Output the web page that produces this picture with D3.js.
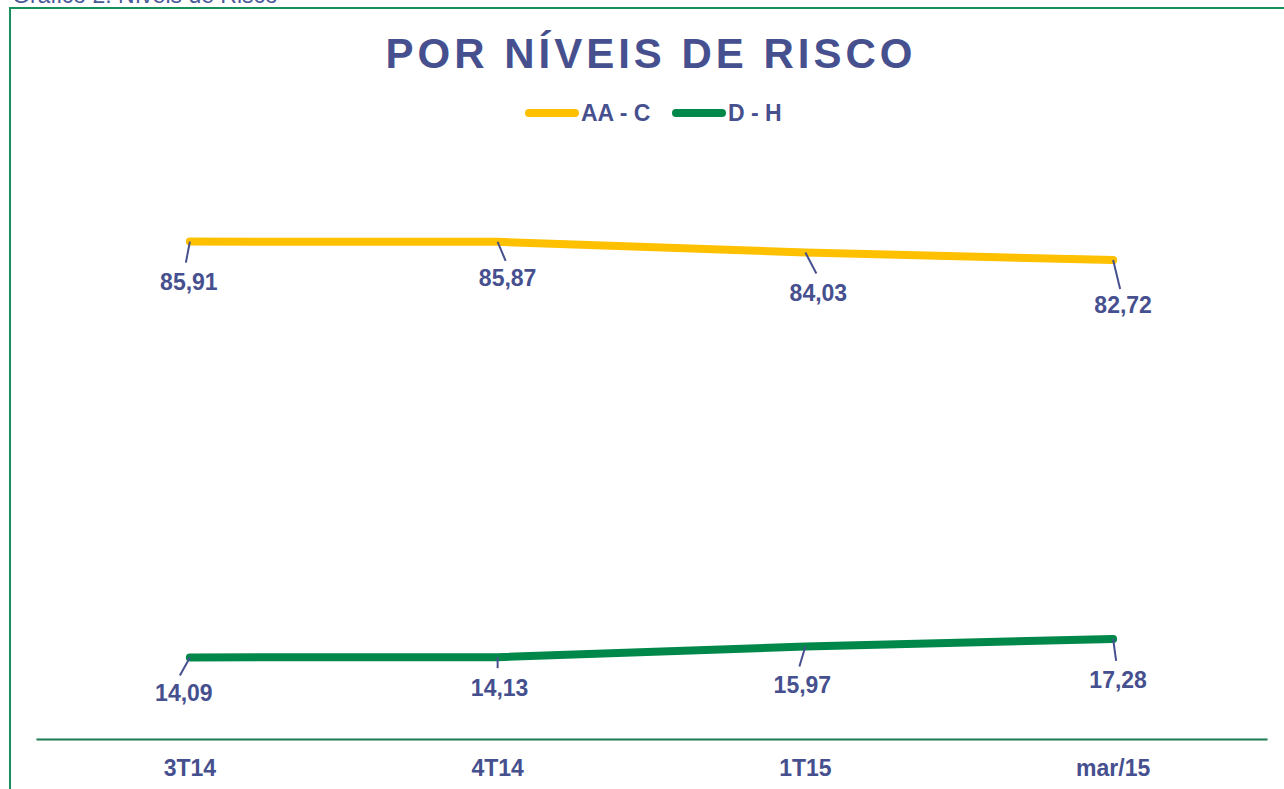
<!DOCTYPE html>
<html>
<head>
<meta charset="utf-8">
<script src="https://cdn.jsdelivr.net/npm/d3@7"></script>
<style>
  body { margin: 0; background: #fff; }
  text { font-family: "Liberation Sans", Arial, sans-serif; }
</style>
</head>
<body>
<svg id="chart" width="1284" height="789"></svg>
<script>
// categories and series
const categories = ["3T14", "4T14", "1T15", "mar/15"];
const seriesNames = ["AA - C", "D - H"];
const aaC = [85.91, 85.87, 84.03, 82.72];
const dH = [14.09, 14.13, 15.97, 17.28];
const seriesColors = ["#FFC000", "#00884A"];

const textColor = "#46508F";

// label leader offsets (leader end lx/ly, label centre tx / baseline ty) per point
const aaCLabelPos = [
  { lx: -4, ly: 21, tx: -1, ty: 48 },
  { lx: 8, ly: 19, tx: 10, ty: 44 },
  { lx: 11, ly: 21, tx: 13, ty: 49 },
  { lx: 7, ly: 29, tx: 10, ty: 53 }
];
const dHLabelPos = [
  { lx: -10, ly: 18, tx: -6, ty: 44 },
  { lx: 0, ly: 11, tx: 2, ty: 39 },
  { lx: -6, ly: 20, tx: -3, ty: 46 },
  { lx: 3, ly: 22, tx: 5, ty: 49 }
];

function drawChart() {
  const svg = d3.select("#chart");

  // outer frame
  svg.append("rect")
    .attr("x", 10).attr("y", 8)
    .attr("width", 1300).attr("height", 800)
    .attr("fill", "none")
    .attr("stroke", "#16915e")
    .attr("stroke-width", 2);

  // caption, mostly cut off at the top
  svg.append("text")
    .attr("x", 12).attr("y", 3)
    .attr("font-size", 23)
    .attr("fill", "#4a5a9a")
    .text("Gráfico 2: Níveis de Risco");

  // title
  svg.append("text")
    .attr("x", 651).attr("y", 68)
    .attr("text-anchor", "middle")
    .attr("font-size", 42)
    .attr("font-weight", "bold")
    .attr("letter-spacing", 4)
    .attr("fill", textColor)
    .text("POR NÍVEIS DE RISCO");

  // legend
  const legendItems = [
    { name: seriesNames[0], color: seriesColors[0], x: 529 },
    { name: seriesNames[1], color: seriesColors[1], x: 676 }
  ];
  legendItems.forEach((item) => {
    svg.append("line")
      .attr("x1", item.x).attr("x2", item.x + 46)
      .attr("y1", 113).attr("y2", 113)
      .attr("stroke", item.color)
      .attr("stroke-width", 8)
      .attr("stroke-linecap", "round");
    svg.append("text")
      .attr("x", item.x + 52).attr("y", 121)
      .attr("font-size", 23)
      .attr("font-weight", "bold")
      .attr("fill", textColor)
      .text(item.name);
  });

  // scales
  const x = d3.scaleBand().domain(categories).range([36, 1267]);
  const y = d3.scaleLinear().domain([0, 100]).range([739, 160]);
  const cx = (c) => x(c) + x.bandwidth() / 2;

  // axis
  const axis = svg.append("g")
    .attr("transform", "translate(0,739)")
    .call(d3.axisBottom(x).tickSize(0).tickPadding(21));
  axis.select(".domain").attr("stroke", "#1e7a50").attr("stroke-width", 2);
  axis.selectAll("text")
    .attr("font-size", 23)
    .attr("font-weight", "bold")
    .attr("fill", textColor)
    .style("font-family", "'Liberation Sans', Arial, sans-serif");

  const line = d3.line()
    .x((d, i) => cx(categories[i]))
    .y((d) => y(d));

  const series = [
    { values: aaC, color: seriesColors[0], labels: aaCLabelPos },
    { values: dH, color: seriesColors[1], labels: dHLabelPos }
  ];

  series.forEach((s) => {
    svg.append("path")
      .datum(s.values)
      .attr("d", line)
      .attr("fill", "none")
      .attr("stroke", s.color)
      .attr("stroke-width", 8)
      .attr("stroke-linecap", "round")
      .attr("stroke-linejoin", "round");
  });

  series.forEach((s) => {
    s.values.forEach((v, i) => {
      const px = cx(categories[i]);
      const py = y(v);
      const p = s.labels[i];
      svg.append("line")
        .attr("x1", px).attr("y1", py)
        .attr("x2", px + p.lx).attr("y2", py + p.ly)
        .attr("stroke", textColor)
        .attr("stroke-width", 2);
      svg.append("text")
        .attr("x", px + p.tx).attr("y", py + p.ty)
        .attr("text-anchor", "middle")
        .attr("font-size", 23)
        .attr("font-weight", "bold")
        .attr("fill", textColor)
        .text(d3.format(".2f")(v).replace(".", ","));
    });
  });
}

drawChart();
</script>
</body>
</html>
